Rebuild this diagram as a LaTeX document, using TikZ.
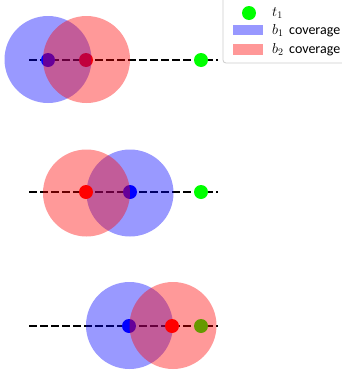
\documentclass[tikz,border=0pt]{standalone}
\usepackage{fontspec}
\setmainfont{Carlito}
\begin{document}
\begin{tikzpicture}[x=1pt,y=-1pt,
  dot/.style={circle,inner sep=0pt,minimum size=14pt},
  cov/.style={fill opacity=0.4},
  path/.style={line width=2pt,dash pattern=on 7.5pt off 3.5pt},
  legtext/.style={anchor=west,inner sep=0pt,font=\fontsize{14}{16}\selectfont}]
\useasboundingbox (0,0) rectangle (342,378);
% ---------- panel 1 ----------
\coordinate (l1) at (29,60); \coordinate (r1) at (218,60);
\draw[path] (l1) -- (r1);
\node[dot,fill=blue] (b1a) at (48,60) {};
\node[dot,fill=red] (b2a) at (86,60) {};
\node[dot,fill=green] (ta) at (201,60) {};
\fill[blue,cov] (48,59.5) circle (43.5);
\fill[red,cov] (86.5,59.5) circle (43.5);
% ---------- panel 2 ----------
\coordinate (l2) at (29,192); \coordinate (r2) at (218,192);
\draw[path] (l2) -- (r2);
\node[dot,fill=blue] (b1b) at (130,192) {};
\node[dot,fill=green] (tb) at (201,192) {};
\fill[blue,cov] (130,193) circle (43.5);
\fill[red,cov] (86.5,193) circle (43.5);
\node[dot,fill=red] (b2b) at (86,192) {};
% ---------- panel 3 ----------
\coordinate (l3) at (29,326); \coordinate (r3) at (218,326);
\draw[path] (l3) -- (r3);
\node[dot,fill=blue] (b1c) at (129,326) {};
\node[dot,fill=green] (tc) at (201,326) {};
\fill[blue,cov] (129.5,325.5) circle (43.5);
\fill[red,cov] (173,325.5) circle (43.5);
\node[dot,fill=red] (b2c) at (172,326) {};
% ---------- legend ----------
\draw[rounded corners=3pt,draw=black!20,fill=white,fill opacity=0.8,line width=0.8pt]
  (223,-4) rectangle (350,63);
\node[dot,fill=green] (lgt) at (249,13) {};
\fill[blue,cov] (233,24.5) rectangle (263,35);
\fill[red,cov] (233,44) rectangle (263,55);
\node[legtext] (lt) at (272,13) {$\mathsurround=0pt\textstyle t_1$};
\node[legtext] (lb1) at (272,30.5) {$b_1$\, coverage};
\node[legtext] (lb2) at (272,50) {$b_2$\, coverage};
\end{tikzpicture}
\end{document}
